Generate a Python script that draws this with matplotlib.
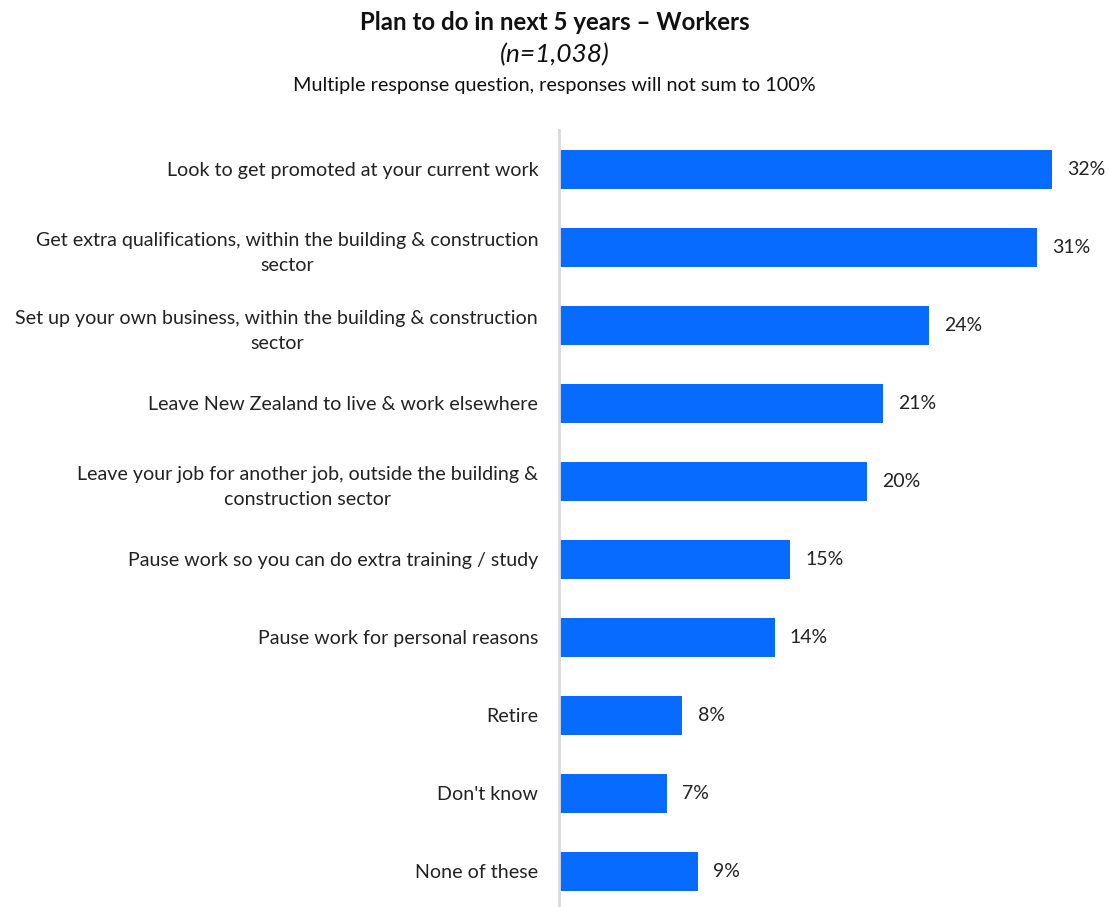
import matplotlib.pyplot as plt

plt.rcParams['font.family'] = ['Lato', 'DejaVu Sans']

categories = [
    'Look to get promoted at your current work',
    'Get extra qualifications, within the building & construction\nsector',
    'Set up your own business, within the building & construction\nsector',
    'Leave New Zealand to live & work elsewhere',
    'Leave your job for another job, outside the building &\nconstruction sector',
    'Pause work so you can do extra training / study',
    'Pause work for personal reasons',
    'Retire',
    "Don't know",
    'None of these',
]
values = [32, 31, 24, 21, 20, 15, 14, 8, 7, 9]

bar_color = '#076BFF'

fig = plt.figure(figsize=(11.09, 9.07), dpi=100)
ax = fig.add_axes([559 / 1109, 0.0, 1 - 559 / 1109, 777 / 907])

ypos = list(range(len(categories)))
ax.barh(ypos, values, height=0.5, color=bar_color)
ax.set_ylim(9.46, -0.5)
ax.set_xlim(0, 35.7)

for y, v in zip(ypos, values):
    ax.annotate(f'{v}%', xy=(v, y), xytext=(11, 0), textcoords='offset points',
                va='center', ha='left', fontsize=14, color='#222222')

ax.set_yticks(ypos)
ax.set_yticklabels(categories, fontsize=14.1, color='#222222', ha='right',
                   multialignment='center', linespacing=1.6)
ax.tick_params(axis='y', length=0, pad=15)
ax.set_xticks([])

for side in ['top', 'right', 'bottom']:
    ax.spines[side].set_visible(False)
ax.spines['left'].set_color('#D9D9D9')
ax.spines['left'].set_linewidth(2)

fig.text(0.5, 1 - 22 / 907, 'Plan to do in next 5 years \u2013 Workers', ha='center', va='center',
         fontsize=17.3, fontweight='bold', color='#111111')
fig.text(0.5, 1 - 55 / 907, '(n=1,038)', ha='center', va='center',
         fontsize=19, fontstyle='italic', color='#111111')
fig.text(0.5, 1 - 85 / 907, 'Multiple response question, responses will not sum to 100%',
         ha='center', va='center', fontsize=14.3, color='#111111')

fig.savefig('out.png', dpi=100)
